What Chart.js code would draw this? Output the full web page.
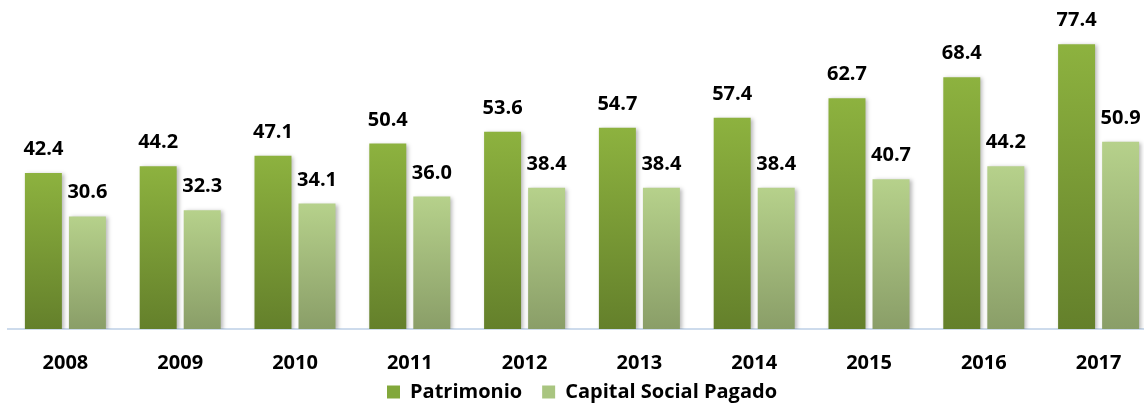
<!DOCTYPE html>
<html>
<head>
<meta charset="utf-8">
<script src="https://cdn.jsdelivr.net/npm/chart.js@4/dist/chart.umd.min.js"></script>
<style>
  html, body { margin: 0; padding: 0; background: #fff; overflow: hidden; }
  #wrap { position: absolute; left: 0; top: 0; width: 1164px; height: 404px; }
</style>
</head>
<body>
<div id="wrap"><canvas id="chart"></canvas></div>
<script>
// chart data
const years = ['2008', '2009', '2010', '2011', '2012', '2013', '2014', '2015', '2016', '2017'];
const patrimonio = [42.4, 44.2, 47.1, 50.4, 53.6, 54.7, 57.4, 62.7, 68.4, 77.4];
const capitalPagado = [30.6, 32.3, 34.1, 36.0, 38.4, 38.4, 38.4, 40.7, 44.2, 50.9];

const FONT = '"Open Sans", Lato, sans-serif';
const LEGEND_PAD = 20;
const legendColors = ['#82a83b', '#a9c580'];

// vertical gradient per bar, light at the top, darker at the base
function barGradient(top, bottom, flat) {
    return function (ctx) {
        const chart = ctx.chart;
        const y = chart.scales && chart.scales.y;
        if (ctx.type !== 'data' || !y || !chart.chartArea) return flat;
        const yTop = y.getPixelForValue(ctx.raw);
        const yBase = y.getPixelForValue(0);
        const g = chart.ctx.createLinearGradient(0, yTop, 0, yBase);
        g.addColorStop(0, top);
        g.addColorStop(1, bottom);
        return g;
    };
}

// legend placement tweaks, soft bar shadow, value labels above bars
const barExtras = {
    id: 'barExtras',
    beforeLayout(chart) {
        const lg = chart.legend;
        if (lg && !lg._trimmed) {
            const fit = lg.fit;
            lg.fit = function () { fit.call(this); this.height = 29; };
            lg._trimmed = true;
        }
    },
    afterLayout(chart) {
        // pull the legend box up so its row sits just under the year labels
        const lg = chart.legend;
        if (lg) {
            const h = 22 + LEGEND_PAD;
            lg.top = chart.height - h;
            lg.bottom = chart.height;
            lg.height = h;
        }
    },
    beforeDatasetsDraw(chart) {
        const c = chart.ctx;
        c.save();
        c.shadowColor = 'rgba(0,0,0,0.28)';
        c.shadowBlur = 4;
        c.shadowOffsetX = 2;
        c.shadowOffsetY = 1;
    },
    afterDatasetsDraw(chart) {
        const c = chart.ctx;
        c.restore();
        c.save();
        c.font = 'bold 20px ' + FONT;
        c.fillStyle = '#000';
        c.textAlign = 'center';
        c.textBaseline = 'alphabetic';
        chart.data.datasets.forEach((ds, i) => {
            chart.getDatasetMeta(i).data.forEach((bar, j) => {
                c.fillText(ds.data[j].toFixed(1), bar.x, bar.y - 18);
            });
        });
        c.restore();
    }
};

new Chart(document.getElementById('chart'), {
    type: 'bar',
    data: {
        labels: years,
        datasets: [{
            label: 'Patrimonio',
            data: patrimonio,
            backgroundColor: barGradient('#8db23f', '#64802b', legendColors[0]),
            categoryPercentage: 0.767,
            barPercentage: 0.84
        }, {
            label: 'Capital Social Pagado',
            data: capitalPagado,
            backgroundColor: barGradient('#b6d18b', '#8a9e68', legendColors[1]),
            categoryPercentage: 0.767,
            barPercentage: 0.84
        }]
    },
    options: {
        responsive: true,
        maintainAspectRatio: false,
        animation: false,
        layout: { padding: { left: 8, right: 8, top: 0, bottom: 0 } },
        scales: {
            x: {
                grid: { display: false },
                border: { display: true, color: '#cddbec', width: 2 },
                ticks: {
                    color: '#000',
                    font: { family: FONT, size: 20, weight: 'bold' },
                    padding: 14,
                    maxRotation: 0,
                    autoSkip: false
                },
                afterFit(scale) { scale.height = 46; }
            },
            y: {
                display: false,
                min: 0,
                max: 89.4
            }
        },
        plugins: {
            legend: {
                position: 'bottom',
                labels: {
                    color: '#000',
                    font: { family: FONT, size: 20, weight: 'bold' },
                    boxWidth: 13,
                    boxHeight: 13,
                    padding: LEGEND_PAD,
                    generateLabels(chart) {
                        const items = Chart.defaults.plugins.legend.labels.generateLabels(chart);
                        items.forEach((it, i) => {
                            it.fillStyle = legendColors[i];
                            it.strokeStyle = legendColors[i];
                            it.lineWidth = 0;
                        });
                        return items;
                    }
                }
            },
            tooltip: { enabled: false }
        }
    },
    plugins: [barExtras]
});
</script>
</body>
</html>
